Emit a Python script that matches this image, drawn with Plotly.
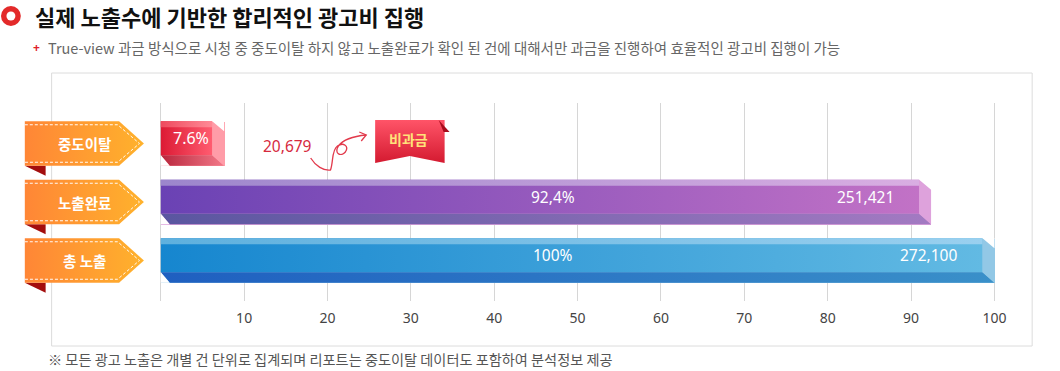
import plotly.graph_objects as go

# ---------------- data ----------------
categories = ["중도이탈", "노출완료", "총 노출"]
percent_values = [7.6, 92.4, 100]
percent_labels = ["7.6%", "92,4%", "100%"]
count_labels = ["20,679", "251,421", "272,100"]
tick_values = [10, 20, 30, 40, 50, 60, 70, 80, 90, 100]

title_text = "실제 노출수에 기반한 합리적인 광고비 집행"
subtitle_text = ("True-view 과금 방식으로 시청 중 중도이탈 하지 않고 노출완료가 확인 된 건에 "
                 "대해서만 과금을 진행하여 효율적인 광고비 집행이 가능")
note_text = "※ 모든 광고 노출은 개별 건 단위로 집계되며 리포트는 중도이탈 데이터도 포함하여 분석정보 제공"
flag_text = "비과금"

# ---------------- styles ----------------
W, H = 1060, 371
KFONT = "Noto Sans CJK KR"
NFONT = "Noto Sans"

front_grad = [("#dc1a34", "#ff5c70"), ("#6a42b4", "#c272c6"), ("#1686cf", "#62bae3")]
top_grad = [("#ee4a5e", "#ff8a96"), ("#9c86cc", "#d9aee2"), ("#5eb0de", "#9ad0ef")]
bottom_grad = [("#b8263c", "#f27888"), ("#5a56a0", "#a37ac2"), ("#1f5fc0", "#3a90c9")]
side_colors = ["#ff9ca8", "#dea2dc", "#92c8e6"]

# pixel geometry of main plot
X_LEFT_PX, X_RIGHT_PX = 157.8, 1006.2
UX = (X_RIGHT_PX - X_LEFT_PX) / 101.0          # px per x unit
Y_C0, Y_STEP = 143.5, 58.5                     # first bar center / step in px
Y_RANGE = (-0.7, 2.7)
Y_TOP_PX = Y_C0 + Y_RANGE[0] * Y_STEP
Y_BOT_PX = Y_C0 + Y_RANGE[1] * Y_STEP

BAR_PX = 44.5
FRONT_PX = 34.0
HILITE_PX = 6.0
SIDE_PX = 12.0
CHAMFER_PX = 10.0
SLANT_PX = 9.0


def ux(px):
    return px / UX


def uy(px):
    return px / Y_STEP


fig = go.Figure()

ypos = list(range(len(categories)))
bw = uy(BAR_PX)

# base bars (data)
fig.add_trace(go.Bar(
    y=ypos, x=percent_values, orientation="h", width=bw,
    marker=dict(color=side_colors, line=dict(width=0)),
    hoverinfo="skip", showlegend=False, xaxis="x", yaxis="y"))


def poly(xs, ys, c1, c2, axis=("x", "y"), gtype="horizontal"):
    fig.add_trace(go.Scatter(
        x=list(xs) + [xs[0]], y=list(ys) + [ys[0]], mode="lines",
        fill="toself", line=dict(width=0, color="rgba(0,0,0,0)"),
        fillgradient=dict(type=gtype, colorscale=[[0, c1], [1, c2]]),
        hoverinfo="skip", showlegend=False, xaxis=axis[0], yaxis=axis[1]))


def solid(xs, ys, color, axis=("x", "y")):
    fig.add_trace(go.Scatter(
        x=list(xs) + [xs[0]], y=list(ys) + [ys[0]], mode="lines",
        fill="toself", fillcolor=color, line=dict(width=0, color="rgba(0,0,0,0)"),
        hoverinfo="skip", showlegend=False, xaxis=axis[0], yaxis=axis[1]))


annotations = []
for i, v in enumerate(percent_values):
    top = ypos[i] - bw / 2
    bot = ypos[i] + bw / 2
    t34 = top + uy(FRONT_PX)
    fe = v - ux(SIDE_PX)
    # front face
    poly([0, fe, fe, 0], [top, top, t34, t34], *front_grad[i])
    # top highlight
    poly([0, fe, fe, 0], [top, top, top + uy(HILITE_PX), top + uy(HILITE_PX)], *top_grad[i])
    # bottom strip
    poly([0, fe, v, ux(SLANT_PX)], [t34, t34, bot, bot], *bottom_grad[i])
    # side face
    solid([fe, v, v, fe], [top, top + uy(CHAMFER_PX), bot, t34], side_colors[i])
    # chamfer corners (background)
    solid([fe, v, v], [top, top, top + uy(CHAMFER_PX)], "white")
    solid([0, ux(SLANT_PX), 0], [t34, bot, bot], "white")

    ytxt = top + uy(FRONT_PX / 2)
    if v < 20:
        annotations.append(dict(x=fe - 0.15, y=ytxt, xref="x", yref="y", text=percent_labels[i],
                                showarrow=False, xanchor="right", yanchor="middle",
                                font=dict(family=NFONT, size=16, color="white")))
    else:
        annotations.append(dict(x=47, y=ytxt, xref="x", yref="y", text=percent_labels[i],
                                showarrow=False, xanchor="center", yanchor="middle",
                                font=dict(family=NFONT, size=15.5, color="white")))
        annotations.append(dict(x=v - 4.2, y=ytxt, xref="x", yref="y", text=count_labels[i],
                                showarrow=False, xanchor="right", yanchor="middle",
                                font=dict(family=NFONT, size=15.5, color="white")))

# ---------------- pixel-space decorations (x2/y2) ----------------
P = ("x2", "y2")
for i, cat in enumerate(categories):
    c = Y_C0 + i * Y_STEP
    t = c - BAR_PX / 2
    b = c + BAR_PX / 2
    # fold
    solid([25, 46, 46], [b, b, b + 10], "#a30e0e", axis=P)
    # ribbon
    poly([25, 120, 145, 120, 25], [t, t, c, b, b], "#ff8636", "#ffb22c", axis=P)
    fig.add_trace(go.Scatter(
        x=[25, 118.5, 140.5, 118.5, 25], y=[t + 3.5, t + 3.5, c, b - 3.5, b - 3.5],
        mode="lines", line=dict(color="rgba(255,255,255,0.95)", width=1, dash="3px,2px"),
        hoverinfo="skip", showlegend=False, xaxis="x2", yaxis="y2"))
    annotations.append(dict(x=85, y=c, xref="x2", yref="y2", text="<b>%s</b>" % cat,
                            showarrow=False, xanchor="center", yanchor="middle",
                            font=dict(family=KFONT, size=14.5, color="white")))

# flag 비과금
poly([378, 448, 448, 413, 378], [120, 120, 163, 156, 163], "#d41a30", "#ff5468",
     axis=P, gtype="vertical")
solid([442, 453, 447], [120, 132, 132], "#a80c1c", axis=P)
annotations.append(dict(x=412, y=139, xref="x2", yref="y2", text="<b>%s</b>" % flag_text,
                        showarrow=False, xanchor="center", yanchor="middle",
                        font=dict(family=KFONT, size=14, color="#ffe27a")))

# outside count label for first bar
annotations.append(dict(x=290, y=146, xref="x2", yref="y2", text=count_labels[0],
                        showarrow=False, xanchor="center", yanchor="middle",
                        font=dict(family=NFONT, size=15.5, color="#d62a3e")))

# title & texts
annotations.append(dict(x=33, y=16, xref="x2", yref="y2", text="<b>%s</b>" % title_text,
                        showarrow=False, xanchor="left", yanchor="middle",
                        font=dict(family=KFONT, size=22, color="#111111")))
annotations.append(dict(x=31, y=47, xref="x2", yref="y2", text="<b>+</b>",
                        showarrow=False, xanchor="left", yanchor="middle",
                        font=dict(family=NFONT, size=12, color="#e0202a")))
annotations.append(dict(x=46, y=47, xref="x2", yref="y2", text=subtitle_text,
                        showarrow=False, xanchor="left", yanchor="middle",
                        font=dict(family=KFONT, size=14.5, color="#666666")))
annotations.append(dict(x=46, y=359, xref="x2", yref="y2", text=note_text,
                        showarrow=False, xanchor="left", yanchor="middle",
                        font=dict(family=KFONT, size=14.2, color="#555555")))

shapes = [
    # frame
    dict(type="rect", xref="x2", yref="y2", x0=52, x1=1040, y0=73, y1=346,
         line=dict(color="#dcdcdc", width=1), fillcolor="rgba(0,0,0,0)", layer="below"),
    # title icon
    dict(type="circle", xref="x2", yref="y2", x0=1, x1=21, y0=6, y1=26,
         fillcolor="#e32a2a", line=dict(width=0)),
    dict(type="circle", xref="x2", yref="y2", x0=6.5, x1=15.5, y0=11.5, y1=20.5,
         fillcolor="white", line=dict(width=0)),
    # curly arrow
    dict(type="path", xref="x2", yref="y2",
         path=("M313,158 C318,166 326,171 333,170 C336,162 334,150 340,146 "
               "C346,142 352,146 348,152 C344,157 336,154 341,146 "
               "C347,138 358,136 369,135"),
         line=dict(color="#e23a4c", width=1.3)),
    dict(type="path", xref="x2", yref="y2", path="M362,132 L369,135 L364,141",
         line=dict(color="#e23a4c", width=1.3)),
]

fig.update_layout(
    width=W, height=H, autosize=False,
    margin=dict(l=0, r=0, t=0, b=0),
    paper_bgcolor="white", plot_bgcolor="rgba(0,0,0,0)",
    showlegend=False,
    bargap=0,
    xaxis=dict(domain=[X_LEFT_PX / W, X_RIGHT_PX / W], range=[-0.5, 100.5], anchor="y",
               tickvals=tick_values, ticktext=[str(t) for t in tick_values],
               showgrid=True, gridcolor="#d6d6d6", gridwidth=1,
               zeroline=True, zerolinecolor="#d6d6d6", zerolinewidth=1,
               showline=False, ticks="", ticklabelstandoff=7,
               tickfont=dict(family=NFONT, size=14, color="#444444"), fixedrange=True),
    yaxis=dict(domain=[1 - Y_BOT_PX / H, 1 - Y_TOP_PX / H], range=[Y_RANGE[1], Y_RANGE[0]],
               anchor="x", showticklabels=False, showgrid=False, zeroline=False,
               showline=False, ticks="", fixedrange=True),
    xaxis2=dict(domain=[0, 1], range=[0, W], anchor="y2", visible=False, fixedrange=True),
    yaxis2=dict(domain=[0, 1], range=[H, 0], anchor="x2", visible=False, fixedrange=True),
    annotations=annotations,
    shapes=shapes,
)

fig.write_html("out.html", config={"displayModeBar": False, "responsive": False},
               post_script="document.body.style.margin='0';document.body.style.overflow='hidden';")
